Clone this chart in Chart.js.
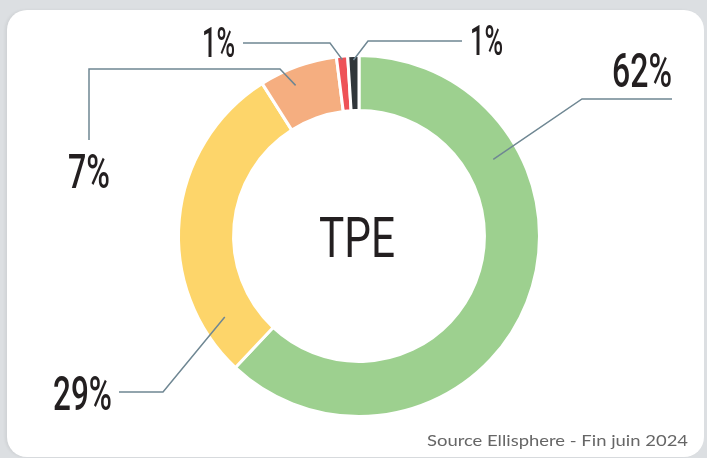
<!DOCTYPE html>
<html lang="fr">
<head>
    <meta charset="UTF-8">
    <title>TPE</title>
    <script src="https://cdn.jsdelivr.net/npm/chart.js"></script>
    <style>
        body {
            margin: 0;
            width: 707px;
            height: 458px;
            background-color: #dcdfe2;
            overflow: hidden;
            position: relative;
        }
        .card {
            position: absolute;
            left: 7px;
            top: 10px;
            width: 697px;
            height: 447px;
            background: #fff;
            border-radius: 20px;
            box-shadow: -2px 0 3px rgba(0,0,0,0.06);
        }
        canvas {
            position: absolute;
            left: 0;
            top: 0;
        }
    </style>
</head>
<body>
    <div class="card"></div>
    <canvas id="tpeChart" width="707" height="458"></canvas>

    <script>
        // data
        const categories = ['62%', '29%', '7%', '1%', '1%'];
        const shares = [62, 29, 7, 1, 1];
        const sliceColors = ['#9dd08f', '#fdd56a', '#f5ae80', '#ee5257', '#30363a'];
        const centerTitle = 'TPE';
        const sourceNote = 'Source Ellisphere - Fin juin 2024';

        // where each callout goes (frac = position along the slice, ring = position across the ring)
        const callouts = [
            { frac: 0.27, ring: 0.53, path: [[582, 99], [672, 99]], text: [672, 87], align: 'right', size: 49, width: 60 },
            { frac: 0.15, ring: 0.57, path: [[163, 392], [119, 392]], text: [112, 410], align: 'right', size: 49, width: 59 },
            { frac: 0.38, ring: 0.69, path: [[280, 69], [89, 69], [89, 140]], text: [89, 188], align: 'center', size: 49, width: 42 },
            { frac: 0.5, ring: 0.94, path: [[330, 43], [243, 43]], text: [235, 57], align: 'right', size: 42, width: 33 },
            { frac: 0.5, ring: 0.92, path: [[368, 41], [462, 41]], text: [470, 55], align: 'left', size: 42, width: 33 }
        ];

        const labelFont = 'Roboto, "DejaVu Sans Condensed", sans-serif';

        function fitText(ctx, text, x, y, font, width, align) {
            ctx.save();
            ctx.font = font;
            const sx = width / ctx.measureText(text).width;
            ctx.translate(x, y);
            ctx.scale(sx, 1);
            ctx.textAlign = align;
            ctx.textBaseline = 'alphabetic';
            ctx.fillText(text, 0, 0);
            ctx.restore();
        }

        const calloutPlugin = {
            id: 'callouts',
            afterDraw(chart) {
                const ctx = chart.ctx;
                const arcs = chart.getDatasetMeta(0).data;

                ctx.save();
                arcs.forEach((arc, i) => {
                    const c = callouts[i];
                    const p = arc.getProps(['x', 'y', 'startAngle', 'endAngle', 'innerRadius', 'outerRadius'], true);
                    const a = p.startAngle + (p.endAngle - p.startAngle) * c.frac;
                    const r = p.innerRadius + (p.outerRadius - p.innerRadius) * c.ring;

                    ctx.strokeStyle = '#6f8793';
                    ctx.lineWidth = 1.5;
                    ctx.beginPath();
                    ctx.moveTo(p.x + r * Math.cos(a), p.y + r * Math.sin(a));
                    c.path.forEach(pt => ctx.lineTo(pt[0], pt[1]));
                    ctx.stroke();

                    ctx.fillStyle = '#231f20';
                    fitText(ctx, categories[i], c.text[0], c.text[1], '500 ' + c.size + 'px ' + labelFont, c.width, c.align);
                });

                // centre title
                const first = arcs[0];
                ctx.fillStyle = '#231f20';
                fitText(ctx, centerTitle, first.x - 2, first.y + 21, '400 56px ' + labelFont, 76, 'center');

                // source note
                ctx.fillStyle = '#666666';
                fitText(ctx, sourceNote, 688, 446, '16px Lato, "Noto Sans", sans-serif', 261, 'right');

                ctx.restore();
            }
        };

        new Chart(document.getElementById('tpeChart'), {
            type: 'doughnut',
            data: {
                labels: categories,
                datasets: [{
                    data: shares,
                    backgroundColor: sliceColors,
                    borderColor: '#ffffff',
                    borderWidth: 3
                }]
            },
            options: {
                responsive: false,
                animation: false,
                cutout: '69.5%',
                layout: {
                    padding: { left: 177, right: 166, top: 54, bottom: 40 }
                },
                plugins: {
                    legend: { display: false },
                    tooltip: { enabled: false }
                }
            },
            plugins: [calloutPlugin]
        });
    </script>
</body>
</html>
